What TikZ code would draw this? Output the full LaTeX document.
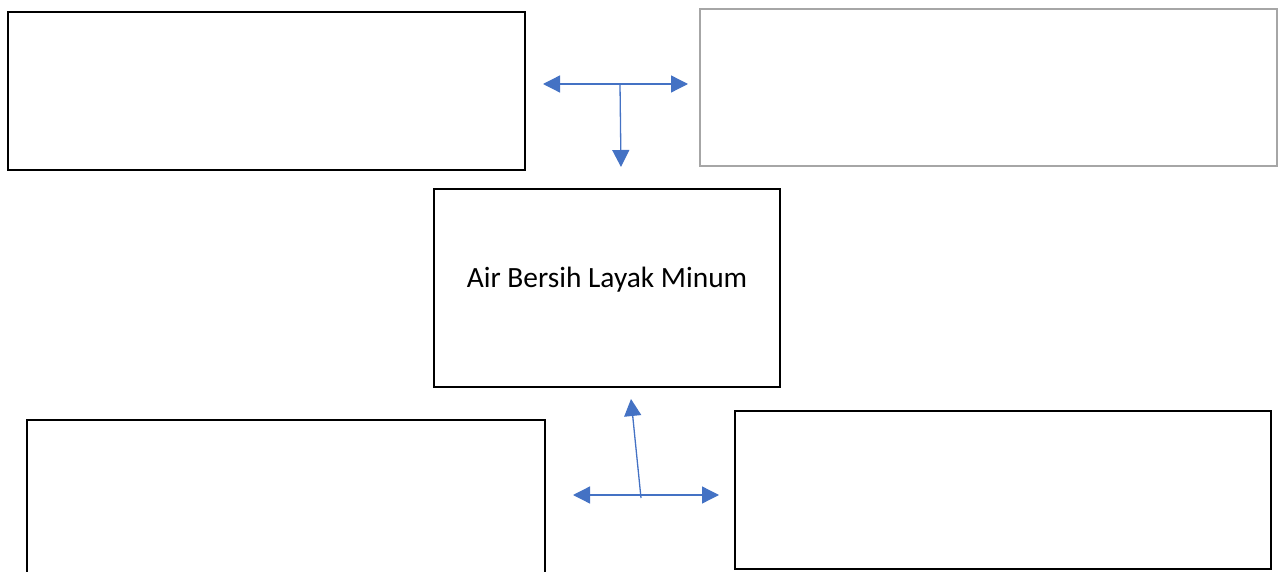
\documentclass[tikz,border=0pt]{standalone}
\usepackage{fontspec}
\setmainfont{Carlito}
\usetikzlibrary{arrows.meta}
\definecolor{arrowblue}{HTML}{4472C4}
\definecolor{boxgray}{HTML}{A6A6A6}
\begin{document}
\begin{tikzpicture}[x=1pt,y=-1pt,
  box/.style={draw=black,line width=2pt,fill=none},
  graybox/.style={draw=boxgray,line width=2pt,fill=none},
  conn/.style={draw=arrowblue,line width=1.3pt,-{Triangle[length=17pt,width=17pt]}},
  conntwo/.style={draw=arrowblue,line width=1.3pt,{Triangle[length=17pt,width=17pt]}-{Triangle[length=17pt,width=17pt]}}]
\useasboundingbox (0,0) rectangle (1278,572);
\begin{scope}
\clip (0,0) rectangle (1278,572);
\draw[box] (8,12) rectangle (525,170);
\draw[graybox] (700,9) rectangle (1277,166);
\draw[box] (434,189) rectangle (780,387);
\draw[box] (27,420) rectangle (545,600);
\draw[box] (735,411) rectangle (1271,569);
\end{scope}
\node[font=\fontsize{29.4}{34}\selectfont,text=black] (center) at (607,280) {Air Bersih Layak Minum};
% top connector
\coordinate (tl) at (543,84);
\coordinate (tr) at (688,84);
\coordinate (tm) at (620,84);
\coordinate (td) at (621,167);
\draw[conntwo] (tl) -- (tr);
\draw[conn] (tm) -- (td);
% bottom connector
\coordinate (bl) at (573,495);
\coordinate (br) at (719,495);
\coordinate (bm) at (641,498);
\coordinate (bu) at (631,399);
\draw[conntwo] (bl) -- (br);
\draw[conn] (bm) -- (bu);
\end{tikzpicture}
\end{document}
